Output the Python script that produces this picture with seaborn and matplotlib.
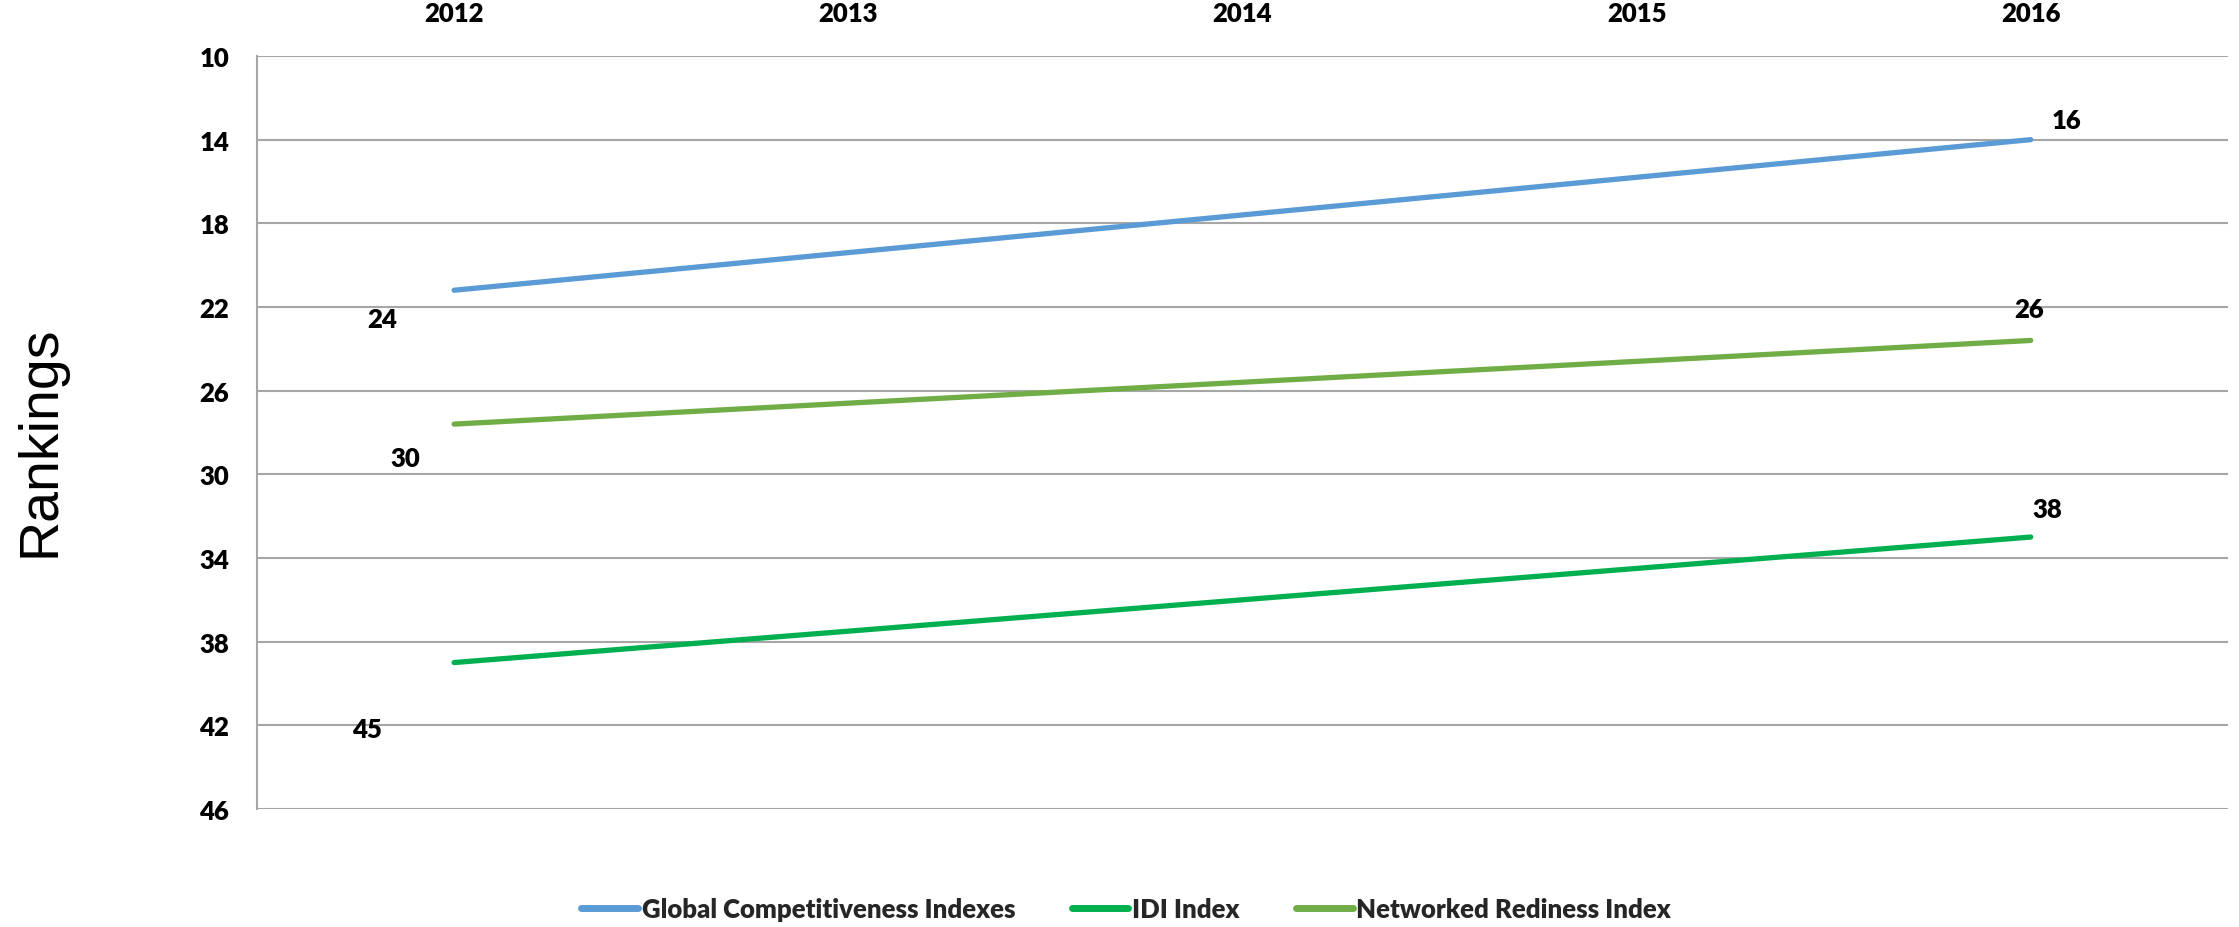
import pandas as pd
import seaborn as sns
import matplotlib.pyplot as plt

years = [2012, 2013, 2014, 2015, 2016]
line_years = [2012, 2016]
global_comp = [21.2, 14.0]
idi_index = [39.0, 33.0]
networked = [27.6, 23.6]
series_names = ['Global Competitiveness Indexes', 'IDI Index', 'Networked Rediness Index']
colors = ['#5B9BD5', '#00B050', '#70AD47']

# value labels as printed on the chart (start, end)
global_labels = ['24', '16']
idi_labels = ['45', '38']
networked_labels = ['30', '26']

df = pd.DataFrame({
    'Year': line_years * 3,
    'Rank': global_comp + idi_index + networked,
    'Index': [series_names[0]] * 2 + [series_names[1]] * 2 + [series_names[2]] * 2,
})

sns.set_theme(style='white')
plt.rcParams['font.family'] = ['Lato', 'DejaVu Sans']

fig = plt.figure(figsize=(22.39, 9.28), dpi=100)
ax = fig.add_axes([0.1148, 0.1272, 0.8802, 0.8114])

sns.lineplot(data=df, x='Year', y='Rank', hue='Index', palette=colors,
             hue_order=series_names, linewidth=3.8, sort=False, ax=ax,
             solid_capstyle='round')

ax.set_xlim(2011.5, 2016.5)
ax.set_ylim(46, 10)
ax.set_yticks(range(10, 47, 4))
ax.set_xticks(years)
ax.xaxis.tick_top()
ax.tick_params(axis='x', length=0, pad=22, labelsize=18.5)
ax.tick_params(axis='y', length=0, pad=20, labelsize=18.5)
for lab in ax.get_xticklabels() + ax.get_yticklabels():
    lab.set_fontweight('heavy')
    lab.set_color('black')

ax.grid(axis='y', color='#A6A6A6', linewidth=1.5)
ax.set_axisbelow(True)
for side in ['top', 'right', 'bottom']:
    ax.spines[side].set_visible(False)
ax.spines['left'].set_color('#A6A6A6')
ax.spines['left'].set_linewidth(1.5)

ax.set_xlabel('')
ax.set_ylabel('')
fig.text(0.018, 0.525, 'Rankings', rotation=90, ha='center', va='center',
         fontsize=40, family='Liberation Sans', color='black')

# data labels, offset from the line ends
offsets = {
    series_names[0]: [(-72, -29), (36, 20)],
    series_names[1]: [(-87, -66), (17, 28)],
    series_names[2]: [(-49, -34), (-2, 31)],
}
label_sets = {
    series_names[0]: (global_comp, global_labels),
    series_names[1]: (idi_index, idi_labels),
    series_names[2]: (networked, networked_labels),
}
for name in series_names:
    vals, labs = label_sets[name]
    for i, (yr, v, t) in enumerate(zip(line_years, vals, labs)):
        ax.annotate(t, (yr, v), xytext=offsets[name][i], textcoords='offset pixels',
                    ha='center', va='center', fontsize=18.5, fontweight='heavy', color='black')

ax.get_legend().remove()
handles, labels = ax.get_legend_handles_labels()
leg = fig.legend(handles, labels, loc='center', bbox_to_anchor=(0.503, 0.019), ncol=3,
                 frameon=False, fontsize=18.5, handlelength=2.2, handletextpad=0.15,
                 columnspacing=2.2)
for t in leg.get_texts():
    t.set_fontweight('heavy')
for line in leg.get_lines():
    line.set_linewidth(5)
    line.set_solid_capstyle('round')

fig.savefig('out.png', dpi=100)
